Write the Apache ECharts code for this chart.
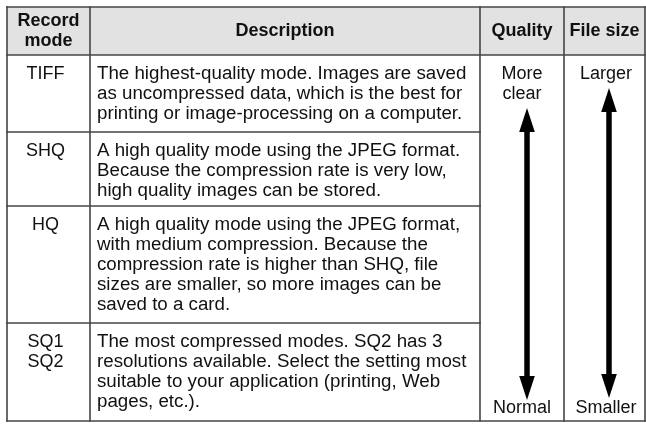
<!DOCTYPE html>
<html><head><meta charset="utf-8">
<script src="https://cdn.jsdelivr.net/npm/echarts@6/dist/echarts.min.js"></script>
<style>html,body{margin:0;padding:0;background:#fff}#c{width:646px;height:424px}</style>
</head><body><div id="c"></div>
<script>
// ---- data ----
const headers = ['Record\nmode', 'Description', 'Quality', 'File size'];
const modes = ['TIFF', 'SHQ', 'HQ', 'SQ1\nSQ2'];
const descriptions = [
  'The highest-quality mode. Images are saved\nas uncompressed data, which is the best for\nprinting or image-processing on a computer.',
  'A high quality mode using the JPEG format.\nBecause the compression rate is very low,\nhigh quality images can be stored.',
  'A high quality mode using the JPEG format,\nwith medium compression. Because the\ncompression rate is higher than SHQ, file\nsizes are smaller, so more images can be\nsaved to a card.',
  'The most compressed modes. SQ2 has 3\nresolutions available. Select the setting most\nsuitable to your application (printing, Web\npages, etc.).'
];
const qualityLabels = ['More\nclear', 'Normal'];
const fileSizeLabels = ['Larger', 'Smaller'];

// ---- layout (positions / styles) ----
const colEdges = [7, 90, 480, 564, 645];
const rowEdges = [7, 55, 132, 206, 323, 421];
const arrowX = [527, 609];
const arrowTop = [108, 88];
const arrowBottom = [400, 398];
const scaleTopY = [64, 64];
const scaleBottomY = [408, 408];
const scaleX = [522, 606];
const FONT_FAMILY = '"Liberation Sans", Arial, Helvetica, sans-serif';
const FS = 18, LH = 20;
const DESC_STRETCH = 1.04;
const LINE = '#444', HEAD_BG = '#e2e2e2', TEXT = '#111';

const chart = echarts.init(document.getElementById('c'), null, {renderer: 'canvas'});
const P = (api, x, y) => api.coord([x, y]);
const txt = (x, y, text, extra) => ({
  type: 'text',
  style: Object.assign({x: x, y: y, text: text, fontFamily: FONT_FAMILY, fontSize: FS,
    fill: TEXT, lineHeight: LH, align: 'center', verticalAlign: 'top'}, extra || {})
});

const headerSeries = {
  type: 'custom', coordinateSystem: 'cartesian2d', silent: true, z: 1,
  data: headers.map((h, i) => [i, 0]),
  renderItem(params, api) {
    const i = api.value(0);
    const a = P(api, colEdges[i], rowEdges[0]), b = P(api, colEdges[i + 1], rowEdges[1]);
    return {type: 'group', children: [
      {type: 'rect', shape: {x: a[0], y: a[1], width: b[0] - a[0], height: b[1] - a[1]}, style: {fill: HEAD_BG}},
      txt((a[0] + b[0]) / 2, (a[1] + b[1]) / 2, headers[i], {fontWeight: 'bold', verticalAlign: 'middle'})
    ]};
  }
};

const modeSeries = {
  type: 'custom', coordinateSystem: 'cartesian2d', silent: true, z: 3,
  data: modes.map((m, r) => [r, 0]),
  renderItem(params, api) {
    const r = api.value(0);
    const a = P(api, colEdges[0], rowEdges[r + 1]), b = P(api, colEdges[1], rowEdges[r + 2]);
    return txt((a[0] + b[0]) / 2 - 3, a[1] + 9, modes[r]);
  }
};

const descSeries = {
  type: 'custom', coordinateSystem: 'cartesian2d', silent: true, z: 3,
  data: descriptions.map((d, r) => [r, 0]),
  renderItem(params, api) {
    const r = api.value(0);
    const a = P(api, colEdges[1], rowEdges[r + 1]);
    const t = txt(0, 0, descriptions[r], {align: 'left'});
    t.x = a[0] + 7; t.y = a[1] + 9; t.scaleX = DESC_STRETCH;
    return t;
  }
};

const scaleSeries = {
  type: 'custom', coordinateSystem: 'cartesian2d', silent: true, z: 3,
  data: [[0, 0], [1, 0]],
  renderItem(params, api) {
    const k = api.value(0);
    const labels = k === 0 ? qualityLabels : fileSizeLabels;
    const t = P(api, scaleX[k], scaleTopY[k]);
    const bt = P(api, scaleX[k], scaleBottomY[k]);
    const top = P(api, arrowX[k], arrowTop[k]);
    const bot = P(api, arrowX[k], arrowBottom[k]);
    const hl = 24, hw = 7.8, sw = 5.5;
    return {type: 'group', children: [
      txt(t[0], t[1], labels[0]),
      txt(bt[0], bt[1], labels[1], {verticalAlign: 'middle'}),
      {type: 'rect', shape: {x: top[0] - sw / 2, y: top[1] + hl - 1, width: sw, height: bot[1] - top[1] - 2 * hl + 2}, style: {fill: '#000'}},
      {type: 'polygon', shape: {points: [[top[0], top[1]], [top[0] - hw, top[1] + hl], [top[0] + hw, top[1] + hl]]}, style: {fill: '#000'}},
      {type: 'polygon', shape: {points: [[bot[0], bot[1]], [bot[0] - hw, bot[1] - hl], [bot[0] + hw, bot[1] - hl]]}, style: {fill: '#000'}}
    ]};
  }
};

// grid lines of the table
const hLines = rowEdges.map((y, i) => [y, colEdges[0], (i <= 1 || i === rowEdges.length - 1) ? colEdges[colEdges.length - 1] : colEdges[2]]);
const vLines = colEdges.map(x => [x, rowEdges[0], rowEdges[rowEdges.length - 1]]);
const lineSeries = {
  type: 'custom', coordinateSystem: 'cartesian2d', silent: true, z: 5,
  data: hLines.map((l, i) => [i, 0]).concat(vLines.map((l, i) => [i, 1])),
  renderItem(params, api) {
    const i = api.value(0), v = api.value(1);
    let a, b;
    if (v === 0) { const l = hLines[i]; a = P(api, l[1], l[0]); b = P(api, l[2], l[0]); }
    else { const l = vLines[i]; a = P(api, l[0], l[1]); b = P(api, l[0], l[2]); }
    return {type: 'line', shape: {x1: a[0], y1: a[1], x2: b[0], y2: b[1]}, style: {stroke: LINE, lineWidth: 1.6, lineCap: 'square'}};
  }
};

chart.setOption({
  animation: false,
  backgroundColor: '#fff',
  grid: {left: 0, right: 0, top: 0, bottom: 0},
  xAxis: {type: 'value', min: 0, max: 646, show: false},
  yAxis: {type: 'value', min: 0, max: 424, inverse: true, show: false},
  series: [headerSeries, modeSeries, descSeries, scaleSeries, lineSeries]
});
</script>
</body></html>
